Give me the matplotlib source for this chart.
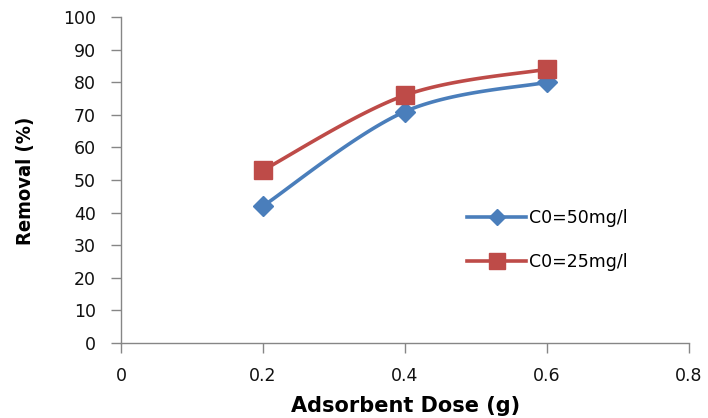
import numpy as np
import matplotlib
matplotlib.use("Agg")
import matplotlib.pyplot as plt

dose = [0.2, 0.4, 0.6]
removal_50 = [42, 71, 80]
removal_25 = [53, 76, 84]
labels = ["C0=50mg/l", "C0=25mg/l"]
colors = ["#4A7EBB", "#BE4B48"]
markers = ["D", "s"]
msizes = [10, 13]

fig = plt.figure(figsize=(7.08, 4.18), dpi=100)
ax = fig.add_axes([121/708, 75/418, 568/708, 326/418])
ax.set_xlim(0, 0.8)
ax.set_ylim(0, 100)
ax.set_xticks([0, 0.2, 0.4, 0.6, 0.8])
ax.set_xticklabels(["0", "0.2", "0.4", "0.6", "0.8"])
ax.set_yticks(range(0, 101, 10))

def smooth(xs, ys, n=40):
    pts = ax.transData.transform(np.column_stack([xs, ys]))
    P = np.vstack([pts[0], pts, pts[-1]])
    out = []
    for i in range(1, len(P) - 2):
        p0, p1, p2, p3 = P[i-1], P[i], P[i+1], P[i+2]
        c1 = p1 + (p2 - p0) / 6.0
        c2 = p2 - (p3 - p1) / 6.0
        t = np.linspace(0, 1, n)[:, None]
        seg = ((1-t)**3)*p1 + 3*((1-t)**2)*t*c1 + 3*(1-t)*t**2*c2 + t**3*p2
        out.append(seg if i == 1 else seg[1:])
    arr = np.vstack(out)
    d = ax.transData.inverted().transform(arr)
    return d[:, 0], d[:, 1]

handles = []
for ys, lab, c, m, ms in zip([removal_50, removal_25], labels, colors, markers, msizes):
    sx, sy = smooth(dose, ys)
    ax.plot(sx, sy, color=c, lw=2.6, solid_capstyle="round")
    ax.plot(dose, ys, linestyle="none", marker=m, markersize=ms, color=c)
    h, = ax.plot([], [], color=c, lw=2.6, marker=m, markersize=ms*0.85, label=lab)
    handles.append(h)

for s in ["top", "right"]:
    ax.spines[s].set_visible(False)
for s in ["left", "bottom"]:
    ax.spines[s].set_color("#868686")
    ax.spines[s].set_linewidth(1.0)
ax.tick_params(axis="both", direction="out", color="#868686", length=7, width=1,
               labelsize=12.5, labelcolor="#111111")
ax.tick_params(axis="y", pad=11)
ax.tick_params(axis="x", pad=10)

fig.text(25/708, 1 - 180.5/418, "Removal (%)", rotation=90, ha="center", va="center",
         fontsize=14.5, fontweight="bold", fontstretch="condensed")
fig.text(405.5/708, 1 - 412/418, "Adsorbent Dose (g)", ha="center", va="baseline",
         fontsize=15, fontweight="bold")

fig.legend(handles=handles, loc="center left", bbox_to_anchor=(467/708, 1 - 240/418),
           frameon=False, fontsize=12.5, handlelength=3.4, handletextpad=0.2,
           labelspacing=1.5, borderpad=0, borderaxespad=0)

fig.savefig("out.png", dpi=100)
